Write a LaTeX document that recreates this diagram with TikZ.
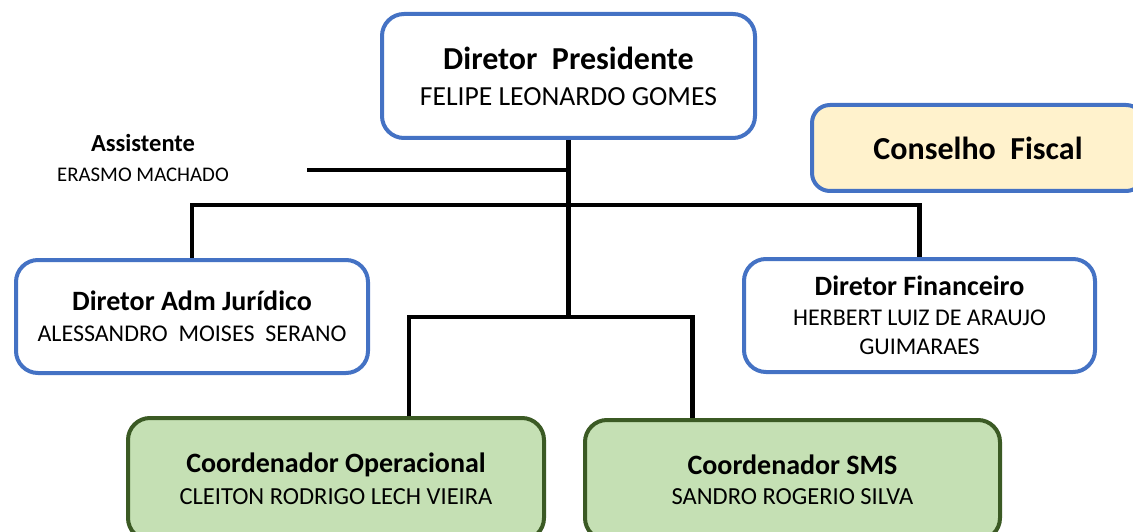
\documentclass[tikz,border=0pt]{standalone}
\usepackage{fontspec}
\setmainfont{Carlito}
\definecolor{boxblue}{HTML}{4472C4}
\definecolor{boxgreen}{HTML}{C5E0B4}
\definecolor{edgegreen}{HTML}{3B5A24}
\definecolor{fiscalcream}{HTML}{FFF2CC}

\begin{document}
\begin{tikzpicture}[x=1pt,y=-1pt,
	dirbox/.style={draw=boxblue,fill=white,line width=4pt,rounded corners=22pt,align=center,inner sep=0pt},
	coordbox/.style={draw=edgegreen,fill=boxgreen,line width=4pt,rounded corners=22pt,align=center,inner sep=0pt},
	fiscalbox/.style={draw=boxblue,fill=fiscalcream,line width=4pt,rounded corners=18pt,align=center,inner sep=0pt},
	link/.style={draw=black,line width=4.5pt}]
		\useasboundingbox (0,0) rectangle (1133,532);
		\clip (0,0) rectangle (1133,532);
		\node[dirbox,minimum width=373pt,minimum height=124pt,
			font=\fontsize{27.6}{36}\selectfont] (pres) at (568.5,76)
			{{\fontsize{32}{36}\selectfont\bfseries Diretor\ \ Presidente}\\FELIPE LEONARDO GOMES};
		\node[fiscalbox,minimum width=332pt,minimum height=86pt,
			font=\fontsize{32}{36}\selectfont\bfseries] (fiscal) at (978,148) {Conselho\ \ Fiscal};
		\node[align=center,inner sep=0pt,font=\fontsize{20.8}{30}\selectfont] (asst) at (143,158)
			{{\fontsize{24.5}{30}\selectfont\bfseries Assistente}\\ERASMO MACHADO};
		\node[dirbox,minimum width=352pt,minimum height=113pt,
			font=\fontsize{24}{31}\selectfont] (adm) at (192,316.5)
			{{\fontsize{28}{31}\selectfont\bfseries Diretor Adm Jurídico}\\ALESSANDRO\ \ MOISES\ \ SERANO};
		\node[dirbox,minimum width=351pt,minimum height=113pt,
			font=\fontsize{24}{29.5}\selectfont] (fin) at (919.5,315.5)
			{{\fontsize{28}{29.5}\selectfont\bfseries Diretor Financeiro}\\HERBERT LUIZ DE ARAUJO\\GUIMARAES};
		\node[coordbox,minimum width=416pt,minimum height=122pt,
			font=\fontsize{24.5}{32}\selectfont] (op) at (336,479)
			{{\fontsize{28}{32}\selectfont\bfseries Coordenador Operacional}\\CLEITON RODRIGO LECH VIEIRA};
		\node[coordbox,minimum width=415pt,minimum height=120pt,
			font=\fontsize{24.5}{30}\selectfont] (sms) at (792.5,480)
			{{\fontsize{28}{30}\selectfont\bfseries Coordenador SMS}\\SANDRO ROGERIO SILVA};
		\coordinate (asstend) at (307,170);
		\coordinate (upperbus) at (0,205);
		\coordinate (lowerbus) at (0,317);
		\draw[link] (pres.south) -- (pres.south |- lowerbus);
		\draw[link] (asstend) -- (asstend -| pres.south);
		\draw[link] (adm.north) |- (upperbus -| pres.south) -| (fin.north);
		\draw[link] ([xshift=73pt]op.north) |- (lowerbus -| pres.south) -| ([xshift=-100pt]sms.north);
	\end{tikzpicture}
\end{document}
